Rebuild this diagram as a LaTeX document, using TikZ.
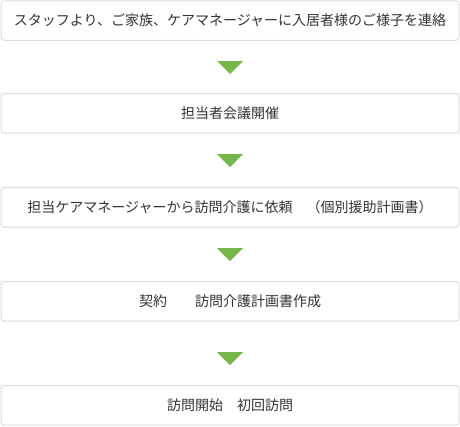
\documentclass[tikz,border=0pt]{standalone}
\usepackage{fontspec}
\setmainfont{Noto Sans CJK JP}
\usetikzlibrary{calc}
\definecolor{boxline}{HTML}{DDDDDD}
\definecolor{txt}{HTML}{333333}
\definecolor{tri}{HTML}{77B64A}
\begin{document}
\begin{tikzpicture}[x=1pt,y=-1pt,
  stepbox/.style={draw=boxline,line width=1pt,rounded corners=3pt,fill=white,
    minimum width=458pt,minimum height=39.5pt,inner sep=0pt,text=txt,
    font=\fontsize{14pt}{16pt}\selectfont},
  arrowtri/.style={fill=tri}]
\useasboundingbox (0,0) rectangle (460,426);
\node[stepbox] (b1) at (230,20.5) {スタッフより、ご家族、ケアマネージャーに入居者様のご様子を連絡};
\node[stepbox] (b2) at (230,113.3) {担当者会議開催};
\node[stepbox] (b3) at (230,207.3) {担当ケアマネージャーから訪問介護に依頼　（個別援助計画書）};
\node[stepbox] (b4) at (230,301.3) {契約　　訪問介護計画書作成};
\node[stepbox] (b5) at (230,405.3) {訪問開始　初回訪問};
\coordinate (t1) at (230,61);
\coordinate (t2) at (230,154);
\coordinate (t3) at (230,248);
\coordinate (t4) at (230,352);
\foreach \t in {t1,t2,t3,t4}{
  \fill[arrowtri] ($(\t)+(-13,0)$) -- ($(\t)+(13,0)$) -- ($(\t)+(0,13)$) -- cycle;
}
\end{tikzpicture}
\end{document}
